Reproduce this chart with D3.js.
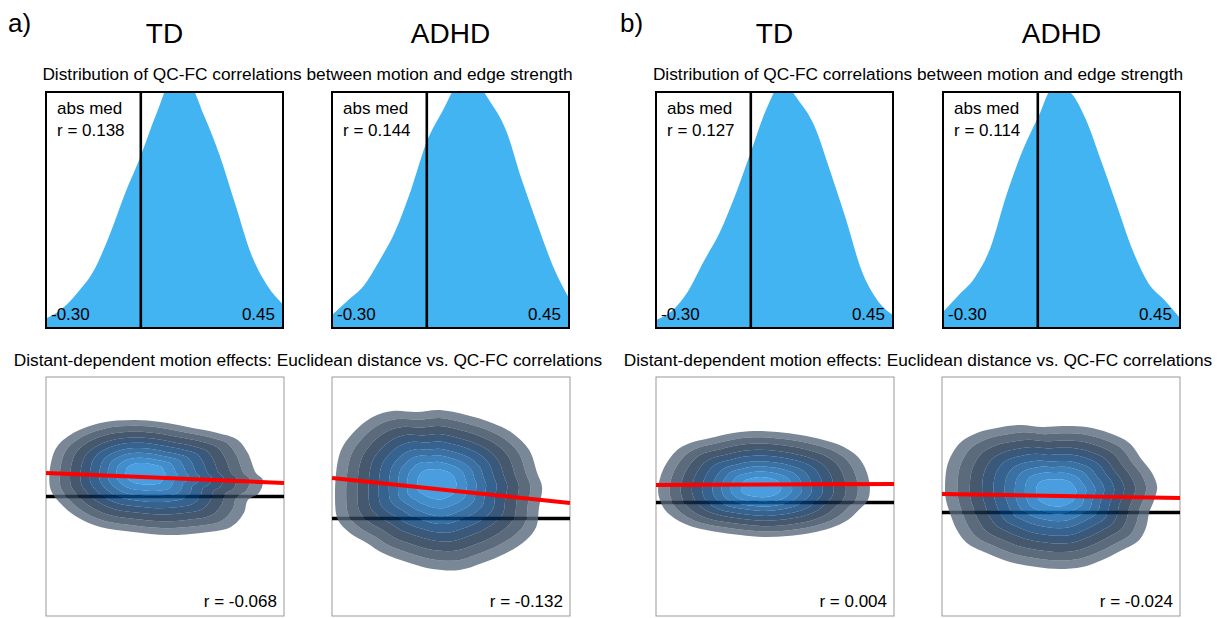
<!DOCTYPE html>
<html>
<head>
<meta charset="utf-8">
<script src="https://cdn.jsdelivr.net/npm/d3@7/dist/d3.min.js"></script>
<style>
  body { margin: 0; background: #fff; }
  text { font-family: "Liberation Sans", Arial, sans-serif; fill: #000; }
</style>
</head>
<body>
<svg id="fig" width="1224" height="618"></svg>
<script>
// ---- data ----
var setLabels = ["a)", "b)"];
var groups = ["TD", "ADHD"];

// QC-FC correlation grid and density (1 = top of the box, peaks are clipped)
var corrGrid = [-0.30, -0.25, -0.20, -0.15, -0.10, -0.05, 0.00, 0.05, 0.10, 0.15, 0.20, 0.25, 0.30, 0.35, 0.40, 0.45];
var densTD_a   = [0.04, 0.08, 0.15, 0.24, 0.39, 0.57, 0.73, 0.91, 1.05, 1.04, 0.90, 0.73, 0.52, 0.31, 0.18, 0.10];
var densADHD_a = [0.055, 0.117, 0.178, 0.285, 0.41, 0.585, 0.79, 0.92, 1.03, 1.04, 0.96, 0.84, 0.63, 0.44, 0.26, 0.127];
var densTD_b   = [0.034, 0.072, 0.153, 0.28, 0.40, 0.56, 0.746, 0.93, 1.04, 0.966, 0.86, 0.67, 0.466, 0.246, 0.119, 0.055];
var densADHD_b = [0.068, 0.14, 0.212, 0.34, 0.56, 0.746, 0.89, 1.02, 1.0, 0.89, 0.71, 0.52, 0.33, 0.19, 0.12, 0.042];
var absMed = [0.138, 0.144, 0.127, 0.114];

// distance (mm) vs QC-FC: outer density contour, density peak, fit line ends
var distDomain = [0, 150];
var qcfcExtent = [[-0.60, 0.60], [-0.49, 0.71], [-0.57, 0.63], [-0.52, 0.68]];
var outerTD_a = [[2.5,0.048],[5.7,0.233],[15.2,0.309],[34.2,0.369],[55.1,0.384],[72.2,0.374],[89.3,0.349],[108.2,0.319],
  [120.9,0.284],[127.2,0.218],[132.3,0.118],[136.7,0.083],[134.2,0.018],[127.2,-0.018],[124.7,-0.083],[116.5,-0.153],
  [97.5,-0.183],[76.6,-0.193],[55.1,-0.178],[34.2,-0.153],[19.6,-0.103],[8.9,-0.033]];
var outerADHD_a = [[1.9,0.107],[5.0,0.328],[13.2,0.429],[25.7,0.509],[38.3,0.539],[53.3,0.534],[67.8,0.544],[84.7,0.519],
  [101.0,0.479],[113.6,0.429],[124.3,0.343],[129.3,0.228],[132.4,0.158],[130.5,0.057],[128.7,-0.043],[122.4,-0.108],
  [109.8,-0.174],[94.8,-0.224],[80.3,-0.259],[63.4,-0.254],[49.0,-0.224],[32.0,-0.174],[22.0,-0.123],[11.3,-0.073],[3.8,-0.008]];
var outerTD_b = [[1.3,0.063],[4.4,0.163],[13.3,0.263],[21.5,0.299],[34.2,0.324],[48.7,0.349],[61.4,0.359],[76.6,0.354],
  [91.1,0.339],[105.7,0.314],[118.4,0.279],[127.2,0.229],[132.3,0.163],[134.8,0.078],[133.5,0.012],[127.8,-0.038],
  [120.9,-0.088],[110.1,-0.128],[97.5,-0.153],[82.9,-0.168],[67.7,-0.173],[53.2,-0.163],[38.6,-0.148],[23.4,-0.123],
  [13.3,-0.088],[5.7,-0.038],[2.5,0.012]];
var outerADHD_b = [[1.9,0.128],[3.8,0.248],[11.3,0.349],[22.0,0.399],[34.5,0.424],[49.0,0.439],[63.4,0.429],[75.9,0.434],
  [91.0,0.429],[105.4,0.399],[118.0,0.349],[126.1,0.263],[132.4,0.198],[135.6,0.128],[133.7,0.063],[130.5,-0.003],
  [128.7,-0.073],[124.3,-0.138],[113.6,-0.189],[101.0,-0.239],[88.5,-0.274],[74.1,-0.284],[59.6,-0.274],[42.7,-0.249],
  [28.2,-0.204],[15.7,-0.153],[9.4,-0.088],[5.0,-0.003],[2.5,0.063]];
var peaks = [[61.4, 0.118], [65.9, 0.178], [65.8, 0.073], [72.8, 0.103]];
var fitEnds = [[0.118, 0.068], [0.203, 0.077], [0.088, 0.093], [0.093, 0.073]];
var distR = [-0.068, -0.132, 0.004, -0.024];
var levelFrac = [1, 0.89, 0.78, 0.67, 0.57, 0.47, 0.38, 0.29, 0.19];

var densities = [densTD_a, densADHD_a, densTD_b, densADHD_b];
var outers = [outerTD_a, outerADHD_a, outerTD_b, outerADHD_b];

// ---- layout ----
var svg = d3.select("#fig");
var topX = [46, 332, 656, 943], topW = 237, topY0 = 92, topY1 = 328;
var botX = [46, 332, 656, 942], botW = 238, botY0 = 377, botY1 = 616;
var bandColors = ["#59697c", "#33465b", "#182e4a", "#092e59", "#033b72", "#094c8b", "#0d5fa6", "#1371be", "#1d86d8"];
var locale = d3.formatLocale({ decimal: ".", thousands: ",", grouping: [3], currency: ["", ""], minus: "-" });
var fmt2 = locale.format(".2f"), fmt3 = locale.format(".3f");

// header text
setLabels.forEach(function(s, k) {
  var left = topX[2 * k], right = topX[2 * k + 1] + topW;
  svg.append("text").attr("x", [8, 620][k]).attr("y", 32)
    .style("font-size", "26px").text(s);
  groups.forEach(function(g, j) {
    svg.append("text")
      .attr("x", topX[2 * k + j] + topW / 2).attr("y", 43)
      .attr("text-anchor", "middle").style("font-size", "28px").text(g);
  });
  svg.append("text").attr("x", (left + right) / 2).attr("y", 80)
    .attr("text-anchor", "middle").style("font-size", "17.3px")
    .text("Distribution of QC-FC correlations between motion and edge strength");
  svg.append("text").attr("x", (botX[2 * k] + botX[2 * k + 1] + botW) / 2).attr("y", 366)
    .attr("text-anchor", "middle").style("font-size", "17.3px")
    .text("Distant-dependent motion effects: Euclidean distance vs. QC-FC correlations");
});

// top row: density of QC-FC correlations
densities.forEach(function(dens, i) {
  var x = d3.scaleLinear().domain([corrGrid[0], corrGrid[corrGrid.length - 1]]).range([topX[i], topX[i] + topW]);
  var y = d3.scaleLinear().domain([0, 1]).range([topY1, topY0]);
  var g = svg.append("g");

  g.append("clipPath").attr("id", "clipTop" + i)
    .append("rect").attr("x", topX[i]).attr("y", topY0).attr("width", topW).attr("height", topY1 - topY0);

  var area = d3.area()
    .x(function(d, j) { return x(corrGrid[j]); })
    .y0(y(0))
    .y1(function(d) { return y(d); })
    .curve(d3.curveMonotoneX);

  g.append("path")
    .datum(dens)
    .attr("clip-path", "url(#clipTop" + i + ")")
    .attr("d", area)
    .attr("fill", "#42b4f2");

  g.append("line")
    .attr("x1", x(0)).attr("x2", x(0))
    .attr("y1", topY0).attr("y2", topY1)
    .attr("stroke", "#000").attr("stroke-width", 2.6);

  g.append("rect")
    .attr("x", topX[i]).attr("y", topY0).attr("width", topW).attr("height", topY1 - topY0)
    .attr("fill", "none").attr("stroke", "#000").attr("stroke-width", 2);

  g.append("text").attr("x", topX[i] + 11).attr("y", 114).style("font-size", "17px").text("abs med");
  g.append("text").attr("x", topX[i] + 11).attr("y", 136).style("font-size", "17px").text("r = " + fmt3(absMed[i]));
  g.append("text").attr("x", topX[i] + 5).attr("y", 320).style("font-size", "17px").text(fmt2(corrGrid[0]));
  g.append("text").attr("x", topX[i] + topW - 8).attr("y", 320).attr("text-anchor", "end")
    .style("font-size", "17px").text(fmt2(corrGrid[corrGrid.length - 1]));
});

// bottom row: distance vs QC-FC density contours
outers.forEach(function(outer, i) {
  var x = d3.scaleLinear().domain(distDomain).range([botX[i], botX[i] + botW]);
  var y = d3.scaleLinear().domain(qcfcExtent[i]).range([botY1, botY0]);
  var g = svg.append("g");

  g.append("rect")
    .attr("x", botX[i]).attr("y", botY0).attr("width", botW).attr("height", botY1 - botY0)
    .attr("fill", "none").attr("stroke", "#999").attr("stroke-width", 1);

  g.append("line")
    .attr("x1", x(distDomain[0])).attr("x2", x(distDomain[1]))
    .attr("y1", y(0)).attr("y2", y(0))
    .attr("stroke", "#000").attr("stroke-width", 3.5);

  var pk = peaks[i];
  var levels = levelFrac.map(function(s) {
    return outer.map(function(p) { return [pk[0] + s * (p[0] - pk[0]), pk[1] + s * (p[1] - pk[1])]; });
  });
  var line = d3.line()
    .x(function(d) { return x(d[0]); })
    .y(function(d) { return y(d[1]); })
    .curve(d3.curveCatmullRomClosed.alpha(0.5));

  // each band is a ring between two contour levels
  levels.forEach(function(lv, k) {
    var d = line(lv) + (k < levels.length - 1 ? line(levels[k + 1]) : "");
    g.append("path")
      .attr("d", d)
      .attr("fill-rule", "evenodd")
      .attr("fill", bandColors[k])
      .attr("fill-opacity", 0.8);
  });

  g.append("line")
    .attr("x1", x(distDomain[0])).attr("x2", x(distDomain[1]))
    .attr("y1", y(fitEnds[i][0])).attr("y2", y(fitEnds[i][1]))
    .attr("stroke", "#ff0000").attr("stroke-width", 4);

  g.append("text").attr("x", botX[i] + botW - 7).attr("y", 607).attr("text-anchor", "end")
    .style("font-size", "17px").text("r = " + fmt3(distR[i]));
});
</script>
</body>
</html>
